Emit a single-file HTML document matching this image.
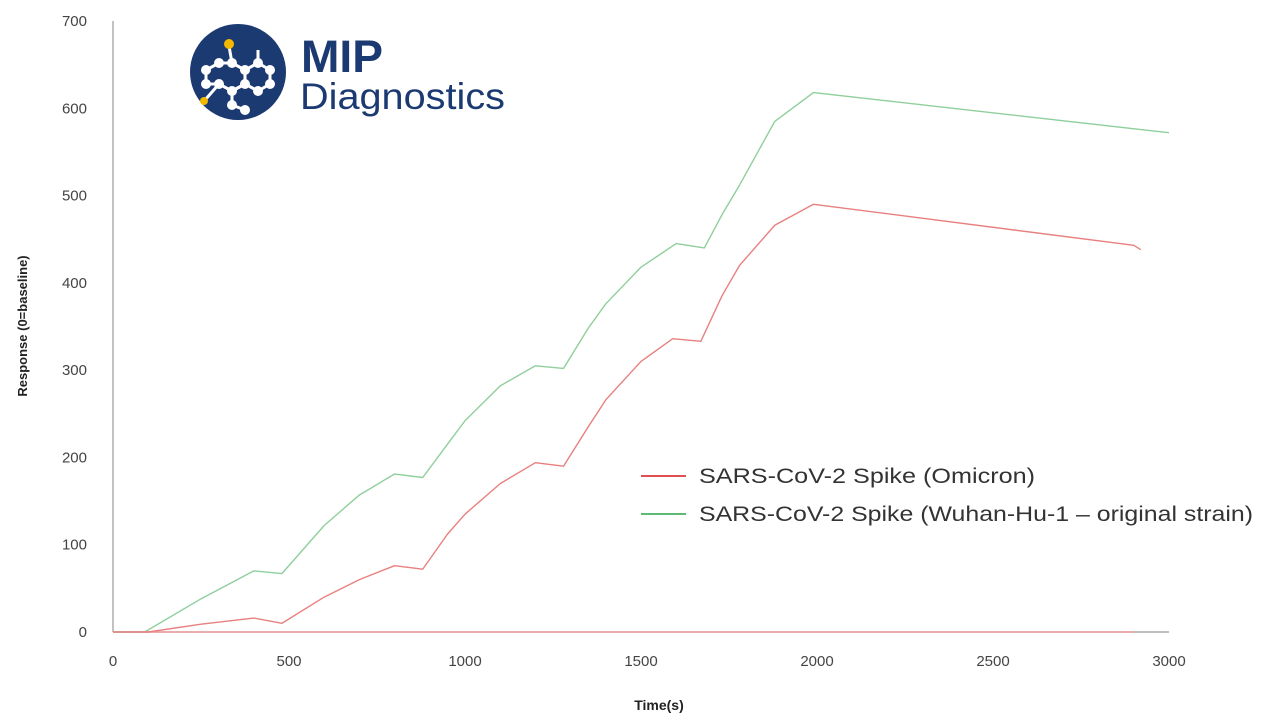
<!DOCTYPE html>
<html><head><meta charset="utf-8"><style>
body{margin:0;background:#fff;width:1280px;height:720px;overflow:hidden;font-family:"Liberation Sans",sans-serif}
</style></head><body>
<svg id="chart" width="1280" height="720" xmlns="http://www.w3.org/2000/svg">
<g>
<circle cx="238" cy="72" r="48" fill="#1c3a72"/>
<g stroke="#fff" stroke-width="3" fill="none">
<polyline points="229,46 232,63 245,70 258,63 270,70 270,84 258,91 245,84 232,91 219,84 206,84 206,70 219,63 232,63"/>
<polyline points="245,70 245,84 232,91 232,105 245,110"/><polyline points="219,84 205,100"/><polyline points="258,63 258,50"/>
</g>
<g fill="#fff"><circle cx="232" cy="63" r="5"/><circle cx="245" cy="70" r="5"/><circle cx="258" cy="63" r="5"/><circle cx="270" cy="70" r="5"/><circle cx="270" cy="84" r="5"/><circle cx="258" cy="91" r="5"/><circle cx="245" cy="84" r="5"/><circle cx="232" cy="91" r="5"/><circle cx="219" cy="84" r="5"/><circle cx="206" cy="84" r="5"/><circle cx="206" cy="70" r="5"/><circle cx="219" cy="63" r="5"/><circle cx="232" cy="105" r="5"/><circle cx="245" cy="110" r="5"/></g>
<circle cx="229" cy="44" r="5" fill="#f5b800"/><circle cx="204" cy="101" r="4" fill="#f5b800"/>
<text x="301" y="72" font-size="45" font-weight="bold" fill="#1c3a72" textLength="82" lengthAdjust="spacingAndGlyphs">MIP</text>
<text x="300" y="109" font-size="37" fill="#1c3a72" textLength="205" lengthAdjust="spacingAndGlyphs">Diagnostics</text>
</g>
<g id="axes"></g>
<g id="series"></g>
<text x="0" y="0" transform="translate(27,326) rotate(-90)" text-anchor="middle" font-size="13" font-weight="bold" fill="#222">Response (0=baseline)</text>
<text x="659" y="710" text-anchor="middle" font-size="14" font-weight="bold" fill="#222">Time(s)</text>
<g>
<line x1="641" y1="476" x2="686" y2="476" stroke="#e05050" stroke-width="2"/>
<text x="699" y="483" font-size="21" fill="#333" textLength="336" lengthAdjust="spacingAndGlyphs">SARS-CoV-2 Spike (Omicron)</text>
<line x1="641" y1="514" x2="686" y2="514" stroke="#5cba74" stroke-width="2"/>
<text x="699" y="521" font-size="21" fill="#333" textLength="554" lengthAdjust="spacingAndGlyphs">SARS-CoV-2 Spike (Wuhan-Hu-1 – original strain)</text>
</g>
</svg>
<script>
const xTicks=[0,500,1000,1500,2000,2500,3000];
const yTicks=[0,100,200,300,400,500,600,700];
const greenT=[0,90,250,400,480,600,700,800,880,950,1000,1100,1200,1280,1350,1400,1500,1600,1680,1730,1780,1880,1990,3000];
const greenV=[0,0,38,70,67,122,157,181,177,215,242,282,305,302,348,376,418,445,440,478,512,585,618,572];
const redT=[0,100,250,400,480,600,700,800,880,950,1000,1100,1200,1280,1350,1400,1500,1590,1670,1730,1780,1880,1990,2900,2920];
const redV=[0,0,9,16,10,40,60,76,72,112,135,170,194,190,235,266,310,336,333,385,420,466,490,443,438];
const X=v=>113+v*(1056/3000);
const Y=v=>632-v*(611/700);
const NS="http://www.w3.org/2000/svg";
const ax=document.getElementById('axes'),se=document.getElementById('series');
function mk(tag,attrs,parent){const e=document.createElementNS(NS,tag);for(const k in attrs)e.setAttribute(k,attrs[k]);parent.appendChild(e);return e;}
let l=mk('line',{x1:X(0),y1:Y(0),x2:X(0),y2:Y(700),stroke:'#999','stroke-width':1.2},ax);


l=mk('line',{x1:X(0),y1:Y(0),x2:X(3000),y2:Y(0),stroke:'#aaa','stroke-width':1.5},ax);


yTicks.forEach(v=>{const t=mk('text',{x:87,y:Y(v)+5,'text-anchor':'end','font-size':15,fill:'#444'},ax);t.textContent=v;

});
xTicks.forEach(v=>{const t=mk('text',{x:X(v),y:666,'text-anchor':'middle','font-size':15,fill:'#444'},ax);t.textContent=v;

});
let b=mk('line',{x1:X(0),y1:Y(0),x2:X(2900),y2:Y(0),stroke:'#f0a0a0','stroke-width':1.5},se);


function pl(ts,vs,c,name){const p=mk('polyline',{points:ts.map((t,i)=>X(t)+','+Y(vs[i])).join(' '),fill:'none',stroke:c,'stroke-width':1.4,'stroke-linejoin':'round'},se);

}
pl(greenT,greenV,'#8fcf9c','series-wuhan');
pl(redT,redV,'#e88080','series-omicron');
</script>
</body></html>
